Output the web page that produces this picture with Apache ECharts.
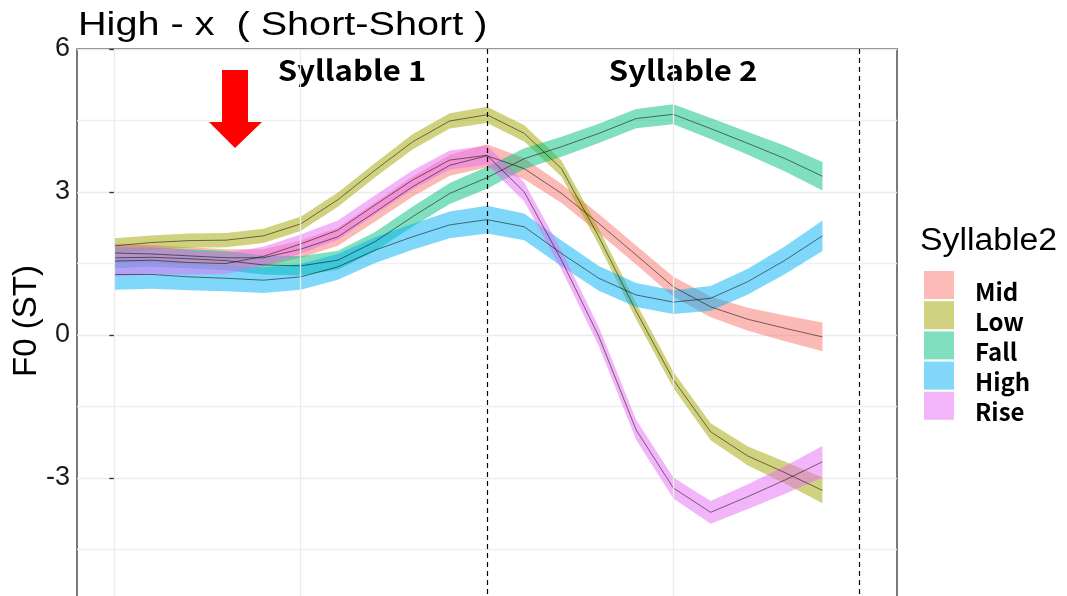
<!DOCTYPE html>
<html>
<head>
<meta charset="utf-8">
<script src="https://cdn.jsdelivr.net/npm/echarts@6/dist/echarts.min.js"></script>
<style>
  html, body { margin: 0; padding: 0; background: #fff; }
  #main { width: 1067px; height: 596px; }
</style>
</head>
<body>
<div id="main"></div>
<script>
// normalised time: 0-1 = syllable 1, 1-2 = syllable 2
var xs = [0, 0.1, 0.2, 0.3, 0.4, 0.5, 0.6, 0.7, 0.8, 0.9, 1.0, 1.1, 1.2, 1.3, 1.4, 1.5, 1.6, 1.7, 1.8, 1.9];

// mean F0 (ST) per tone of syllable 2, and half width of the ribbon
var mid   = [1.72, 1.70, 1.66, 1.62, 1.62, 1.80, 2.06, 2.58, 3.11, 3.56, 3.76, 3.49, 2.97, 2.34, 1.68, 1.01, 0.59, 0.33, 0.14, -0.04];
var midHw = [0.20, 0.19, 0.18, 0.18, 0.18, 0.18, 0.19, 0.20, 0.21, 0.22, 0.24, 0.22, 0.20, 0.20, 0.20, 0.21, 0.22, 0.24, 0.27, 0.30];

var low   = [1.87, 1.94, 1.98, 1.99, 2.08, 2.33, 2.84, 3.46, 4.05, 4.49, 4.62, 4.23, 3.49, 2.06, 0.50, -0.94, -2.03, -2.54, -2.89, -3.26];
var lowHw = [0.16, 0.15, 0.15, 0.15, 0.15, 0.15, 0.15, 0.15, 0.16, 0.16, 0.17, 0.17, 0.17, 0.17, 0.17, 0.17, 0.18, 0.20, 0.23, 0.27];

var fall   = [1.62, 1.63, 1.60, 1.56, 1.47, 1.45, 1.57, 1.96, 2.48, 2.97, 3.30, 3.70, 3.95, 4.23, 4.54, 4.63, 4.33, 4.02, 3.70, 3.33];
var fallHw = [0.22, 0.20, 0.20, 0.20, 0.20, 0.20, 0.20, 0.20, 0.21, 0.22, 0.23, 0.22, 0.21, 0.20, 0.20, 0.21, 0.22, 0.24, 0.27, 0.30];

var high   = [1.27, 1.27, 1.22, 1.19, 1.15, 1.22, 1.43, 1.78, 2.06, 2.31, 2.42, 2.27, 1.71, 1.19, 0.84, 0.69, 0.77, 1.12, 1.57, 2.08];
var highHw = [0.32, 0.30, 0.28, 0.27, 0.27, 0.27, 0.27, 0.27, 0.27, 0.28, 0.29, 0.28, 0.27, 0.26, 0.25, 0.25, 0.26, 0.27, 0.29, 0.32];

var rise   = [1.55, 1.57, 1.52, 1.50, 1.65, 1.91, 2.20, 2.73, 3.25, 3.67, 3.77, 3.00, 1.57, -0.03, -1.99, -3.21, -3.72, -3.39, -3.04, -2.66];
var riseHw = [0.33, 0.29, 0.25, 0.22, 0.20, 0.20, 0.20, 0.20, 0.20, 0.20, 0.20, 0.20, 0.20, 0.20, 0.21, 0.22, 0.24, 0.26, 0.29, 0.33];

var tones = ['Mid', 'Low', 'Fall', 'High', 'Rise'];
var toneColors = ['#F8766D', '#A3A500', '#00BF7D', '#00B0F6', '#E76BF3'];
var keyColors = ['#FCBBB6', '#D1D280', '#80DFBE', '#80D7FA', '#F3B5F9'];
var means = [mid, low, fall, high, rise];
var halfWidths = [midHw, lowHw, fallHw, highHw, riseHw];

var chart = echarts.init(document.getElementById('main'));

var series = [];
// ribbons (mean +/- half width) drawn as one polygon per tone
tones.forEach(function (t, k) {
    var m = means[k], hw = halfWidths[k];
    series.push({
        name: t, type: 'custom', silent: true, z: 2,
        itemStyle: { color: keyColors[k] },
        encode: { x: 0, y: [1, 2] },
        data: xs.map(function (x, i) { return [x, m[i] - hw[i], m[i] + hw[i]]; }),
        renderItem: function (params, api) {
            if (params.dataIndex !== 0) return;
            var top = [], bottom = [];
            for (var i = 0; i < xs.length; i++) {
                top.push(api.coord([xs[i], m[i] + hw[i]]));
                bottom.unshift(api.coord([xs[i], m[i] - hw[i]]));
            }
            return {
                type: 'polygon',
                shape: { points: top.concat(bottom) },
                style: { fill: toneColors[k], opacity: 0.5 }
            };
        }
    });
});
// mean lines on top
tones.forEach(function (t, k) {
    series.push({
        type: 'line', silent: true, symbol: 'none', z: 3,
        lineStyle: { color: '#000', width: 0.8, opacity: 0.65 },
        data: xs.map(function (x, i) { return [x, means[k][i]]; })
    });
});
// vertical grid lines
series.push({
    type: 'line', data: [], z: 1, silent: true,
    markLine: {
        silent: true, symbol: ['none', 'none'], label: { show: false },
        lineStyle: { color: '#ebebeb', type: 'solid', width: 1.3 },
        data: [{ xAxis: 0 }, { xAxis: 0.5 }, { xAxis: 1.5 }]
    }
});
// syllable boundaries
series.push({
    type: 'line', data: [], z: 4, silent: true,
    markLine: {
        silent: true, symbol: ['none', 'none'], label: { show: false },
        lineStyle: { color: '#000', type: [5, 4], width: 1.2 },
        data: [{ xAxis: 1 }, { xAxis: 2 }]
    }
});

var option = {
    animation: false,
    backgroundColor: '#fff',
    grid: {
        left: 77, right: 170, top: 49, bottom: -25,
        show: true, borderColor: '#4d4d4d', borderWidth: 1.5,
        containLabel: false, outerBoundsMode: 'none'
    },
    legend: {
        orient: 'vertical', left: 919, top: 266,
        itemWidth: 30, itemHeight: 28, itemGap: -2.3,
        icon: 'rect',
        data: tones.map(function (t, k) { return { name: t, icon: 'rect', itemStyle: { color: keyColors[k], opacity: 1 } }; }),
        formatter: '{a|{name}}',
        textStyle: {
            padding: [0, 0, 0, 16],
            rich: { a: { fontFamily: 'Noto Sans CJK JP', fontWeight: 'bold', fontSize: 24, color: '#000', padding: [13, 0, 0, 0] } }
        },
        selectedMode: false
    },
    xAxis: {
        type: 'value', min: -0.1, max: 2.1,
        axisLine: { show: false }, axisTick: { show: false }, axisLabel: { show: false },
        splitLine: { show: false }
    },
    yAxis: {
        type: 'value', min: -6, max: 6, interval: 3,
        axisLine: { show: false },
        axisTick: { show: true, length: 5, lineStyle: { color: '#333', width: 1.3 } },
        axisLabel: { fontFamily: 'Liberation Sans', fontSize: 27, color: '#1a1a1a', margin: 7 },
        splitLine: { lineStyle: { color: '#ebebeb', width: 1.3 } },
        minorTick: { show: false, splitNumber: 2 },
        minorSplitLine: { show: true, lineStyle: { color: '#f0f0f0', width: 1.3 } }
    },
    graphic: [
        { type: 'text', x: 78, y: 26, scaleX: 1.165,
          style: { text: 'High - x  ( Short-Short )', fontFamily: 'Liberation Sans', fontSize: 34, fill: '#000', textAlign: 'left', textVerticalAlign: 'middle' } },
        { type: 'text', x: 27, y: 321, rotation: Math.PI / 2,
          style: { text: 'F0 (ST)', fontFamily: 'Liberation Sans', fontSize: 33, fill: '#000', textAlign: 'center', textVerticalAlign: 'middle' } },
        { type: 'text', x: 352, y: 70, scaleX: 1.11,
          style: { text: 'Syllable 1', fontFamily: 'Noto Sans CJK JP', fontWeight: 'bold', fontSize: 28, fill: '#000', textAlign: 'center', textVerticalAlign: 'middle' } },
        { type: 'text', x: 683, y: 70, scaleX: 1.11,
          style: { text: 'Syllable 2', fontFamily: 'Noto Sans CJK JP', fontWeight: 'bold', fontSize: 28, fill: '#000', textAlign: 'center', textVerticalAlign: 'middle' } },
        { type: 'polygon', z: 10,
          shape: { points: [[222, 70], [248, 70], [248, 122], [262, 122], [235, 148], [209, 122], [222, 122]] },
          style: { fill: '#ff0000' } },
        { type: 'text', x: 920, y: 241, scaleX: 1.09,
          style: { text: 'Syllable2', fontFamily: 'Liberation Sans', fontSize: 31, fill: '#000', textAlign: 'left', textVerticalAlign: 'middle' } }
    ],
    series: series
};

chart.setOption(option);
</script>
</body>
</html>
